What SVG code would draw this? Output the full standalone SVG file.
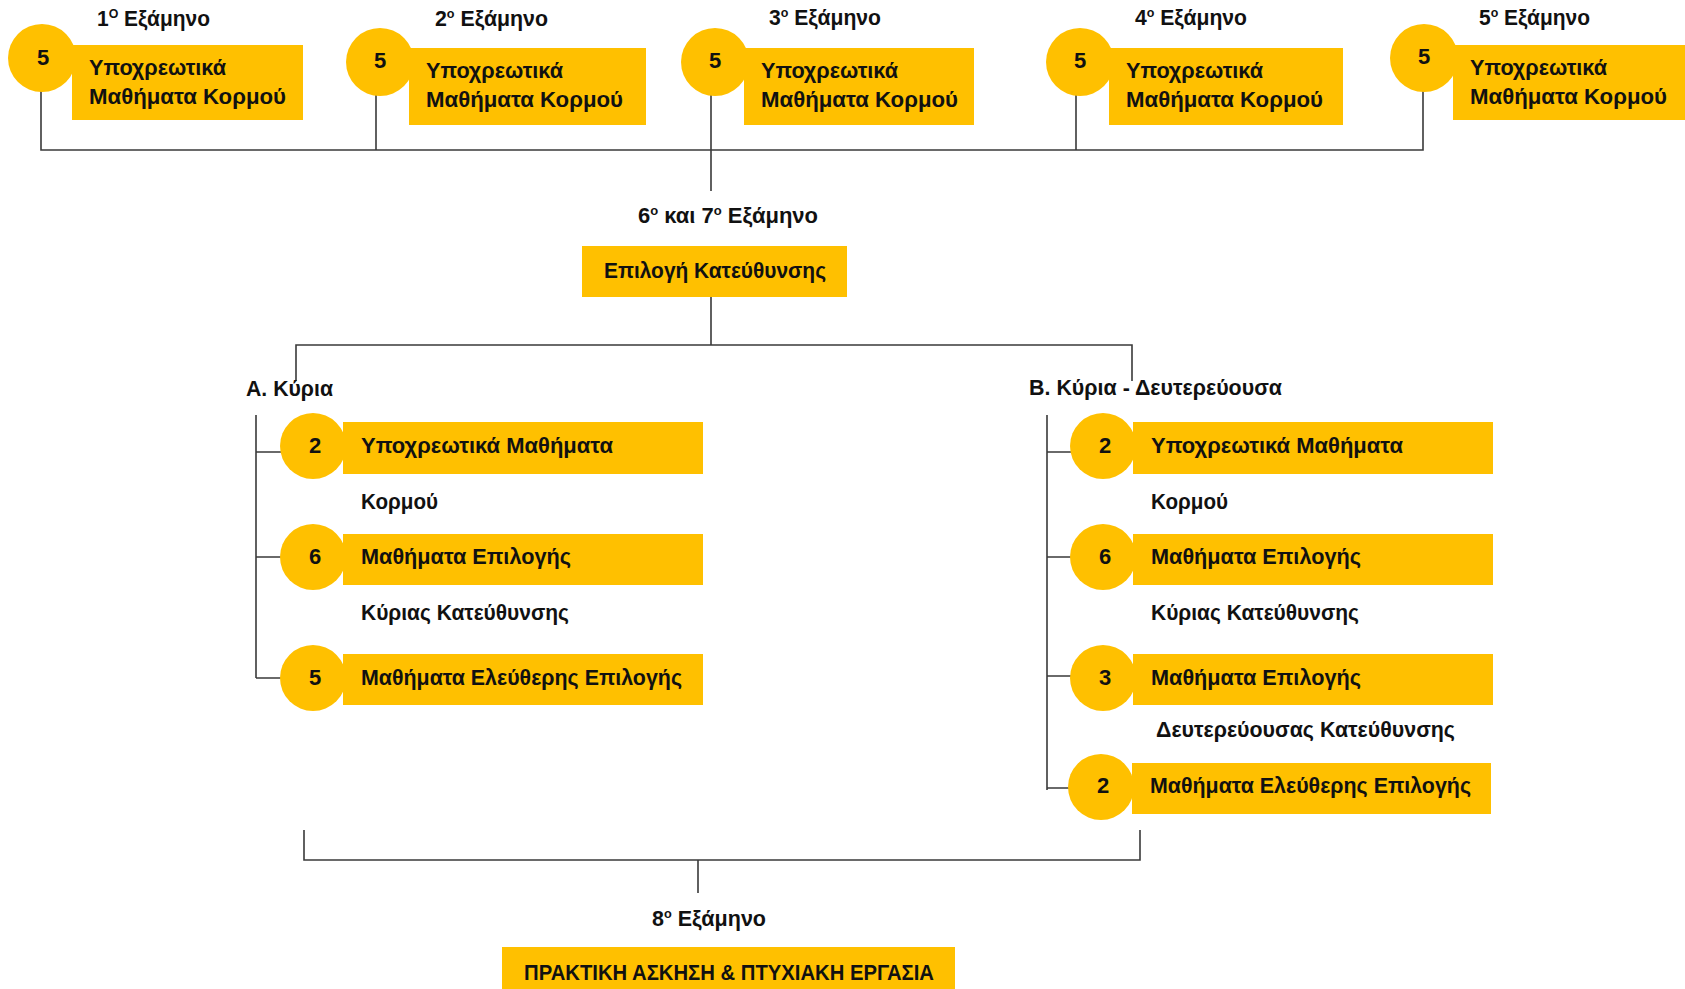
<svg xmlns="http://www.w3.org/2000/svg" width="1685" height="989" viewBox="0 0 1685 989">
<style>
.box{fill:#FFC000}
.dot{fill:#FFC000}
.ln{stroke:#3a3a3a;stroke-width:1.6;fill:none}
text{font-family:"Liberation Sans",Arial,sans-serif;font-weight:bold;fill:#111;font-size:22px}
.num{text-anchor:middle}
.sup{font-size:13px}
</style>
<rect width="1685" height="989" fill="#fff"/>
<g id="connectors">
<path class="ln" d="M41,90 V150 H1423 V90 M376,92 V150 M711,92 V191 M1076,92 V150"/>
<path class="ln" d="M711,297 V345 M296,381 V345 H1132 V381"/>
<path class="ln" d="M256,415 V678 M256,452 H282 M256,557 H282 M256,678 H282"/>
<path class="ln" d="M1047,415 V790 M1047,452 H1072 M1047,557 H1072 M1047,676 H1072 M1047,788 H1070"/>
<path class="ln" d="M304,830 V860 H1140 V830 M698,860 V893"/>
</g>
<g id="sem1">
<text x="97" y="26" textLength="113" lengthAdjust="spacingAndGlyphs">1<tspan class="sup" dy="-8">O</tspan><tspan dy="8"> Εξάμηνο</tspan></text>
<circle class="dot" cx="42" cy="58" r="34"/>
<rect class="box" x="72" y="45" width="231" height="75"/>
<text class="num" x="43" y="65">5</text>
<text x="89" y="75" textLength="137" lengthAdjust="spacingAndGlyphs">Υποχρεωτικά</text>
<text x="89" y="104" textLength="197" lengthAdjust="spacingAndGlyphs">Μαθήματα Κορμού</text>
</g>
<g id="sem2">
<text x="435" y="26" textLength="113" lengthAdjust="spacingAndGlyphs">2<tspan class="sup" dy="-8">ο</tspan><tspan dy="8"> Εξάμηνο</tspan></text>
<circle class="dot" cx="380" cy="62" r="34"/>
<rect class="box" x="409" y="48" width="237" height="77"/>
<text class="num" x="380" y="68">5</text>
<text x="426" y="78" textLength="137" lengthAdjust="spacingAndGlyphs">Υποχρεωτικά</text>
<text x="426" y="107" textLength="197" lengthAdjust="spacingAndGlyphs">Μαθήματα Κορμού</text>
</g>
<g id="sem3">
<text x="769" y="25" textLength="112" lengthAdjust="spacingAndGlyphs">3<tspan class="sup" dy="-8">ο</tspan><tspan dy="8"> Εξάμηνο</tspan></text>
<circle class="dot" cx="715" cy="62" r="34"/>
<rect class="box" x="744" y="48" width="230" height="77"/>
<text class="num" x="715" y="68">5</text>
<text x="761" y="78" textLength="137" lengthAdjust="spacingAndGlyphs">Υποχρεωτικά</text>
<text x="761" y="107" textLength="197" lengthAdjust="spacingAndGlyphs">Μαθήματα Κορμού</text>
</g>
<g id="sem4">
<text x="1135" y="25" textLength="112" lengthAdjust="spacingAndGlyphs">4<tspan class="sup" dy="-8">ο</tspan><tspan dy="8"> Εξάμηνο</tspan></text>
<circle class="dot" cx="1080" cy="62" r="34"/>
<rect class="box" x="1109" y="48" width="234" height="77"/>
<text class="num" x="1080" y="68">5</text>
<text x="1126" y="78" textLength="137" lengthAdjust="spacingAndGlyphs">Υποχρεωτικά</text>
<text x="1126" y="107" textLength="197" lengthAdjust="spacingAndGlyphs">Μαθήματα Κορμού</text>
</g>
<g id="sem5">
<text x="1479" y="25" textLength="111" lengthAdjust="spacingAndGlyphs">5<tspan class="sup" dy="-8">ο</tspan><tspan dy="8"> Εξάμηνο</tspan></text>
<circle class="dot" cx="1424" cy="58" r="34"/>
<rect class="box" x="1453" y="45" width="232" height="75"/>
<text class="num" x="1424" y="64">5</text>
<text x="1470" y="75" textLength="137" lengthAdjust="spacingAndGlyphs">Υποχρεωτικά</text>
<text x="1470" y="104" textLength="197" lengthAdjust="spacingAndGlyphs">Μαθήματα Κορμού</text>
</g>
<g id="sem67">
<text x="638" y="223" textLength="180" lengthAdjust="spacingAndGlyphs">6<tspan class="sup" dy="-8">ο</tspan><tspan dy="8"> και 7</tspan><tspan class="sup" dy="-8">ο</tspan><tspan dy="8"> Εξάμηνο</tspan></text>
<rect class="box" x="582" y="246" width="265" height="51"/>
<text x="604" y="278" textLength="222" lengthAdjust="spacingAndGlyphs">Επιλογή Κατεύθυνσης</text>
</g>
<g id="branchA">
<text x="246" y="396" textLength="87" lengthAdjust="spacingAndGlyphs">Α. Κύρια</text>
<rect class="box" x="343" y="422" width="360" height="52"/>
<circle class="dot" cx="313" cy="446" r="33"/>
<text class="num" x="315" y="453">2</text>
<text x="361" y="453" textLength="252" lengthAdjust="spacingAndGlyphs">Υποχρεωτικά Μαθήματα</text>
<text x="361" y="509" textLength="77" lengthAdjust="spacingAndGlyphs">Κορμού</text>
<rect class="box" x="343" y="534" width="360" height="51"/>
<circle class="dot" cx="313" cy="557" r="33"/>
<text class="num" x="315" y="564">6</text>
<text x="361" y="564" textLength="210" lengthAdjust="spacingAndGlyphs">Μαθήματα Επιλογής</text>
<text x="361" y="620" textLength="208" lengthAdjust="spacingAndGlyphs">Κύριας Κατεύθυνσης</text>
<rect class="box" x="343" y="654" width="360" height="51"/>
<circle class="dot" cx="313" cy="678" r="33"/>
<text class="num" x="315" y="685">5</text>
<text x="361" y="685" textLength="321" lengthAdjust="spacingAndGlyphs">Μαθήματα Ελεύθερης Επιλογής</text>
</g>
<g id="branchB">
<text x="1029" y="395" textLength="253" lengthAdjust="spacingAndGlyphs">Β. Κύρια - Δευτερεύουσα</text>
<rect class="box" x="1133" y="422" width="360" height="52"/>
<circle class="dot" cx="1103" cy="446" r="33"/>
<text class="num" x="1105" y="453">2</text>
<text x="1151" y="453" textLength="252" lengthAdjust="spacingAndGlyphs">Υποχρεωτικά Μαθήματα</text>
<text x="1151" y="509" textLength="77" lengthAdjust="spacingAndGlyphs">Κορμού</text>
<rect class="box" x="1133" y="534" width="360" height="51"/>
<circle class="dot" cx="1103" cy="557" r="33"/>
<text class="num" x="1105" y="564">6</text>
<text x="1151" y="564" textLength="210" lengthAdjust="spacingAndGlyphs">Μαθήματα Επιλογής</text>
<text x="1151" y="620" textLength="208" lengthAdjust="spacingAndGlyphs">Κύριας Κατεύθυνσης</text>
<rect class="box" x="1133" y="654" width="360" height="51"/>
<circle class="dot" cx="1103" cy="678" r="33"/>
<text class="num" x="1105" y="685">3</text>
<text x="1151" y="685" textLength="210" lengthAdjust="spacingAndGlyphs">Μαθήματα Επιλογής</text>
<text x="1156" y="737" textLength="299" lengthAdjust="spacingAndGlyphs">Δευτερεύουσας Κατεύθυνσης</text>
<rect class="box" x="1132" y="763" width="359" height="51"/>
<circle class="dot" cx="1101" cy="787" r="33"/>
<text class="num" x="1103" y="793">2</text>
<text x="1150" y="793" textLength="321" lengthAdjust="spacingAndGlyphs">Μαθήματα Ελεύθερης Επιλογής</text>
</g>
<g id="sem8">
<text x="652" y="926" textLength="114" lengthAdjust="spacingAndGlyphs">8<tspan class="sup" dy="-8">ο</tspan><tspan dy="8"> Εξάμηνο</tspan></text>
<rect class="box" x="502" y="947" width="453" height="42"/>
<text x="524" y="980" textLength="410" lengthAdjust="spacingAndGlyphs">ΠΡΑΚΤΙΚΗ ΑΣΚΗΣΗ &amp; ΠΤΥΧΙΑΚΗ ΕΡΓΑΣΙΑ</text>
</g>
</svg>
